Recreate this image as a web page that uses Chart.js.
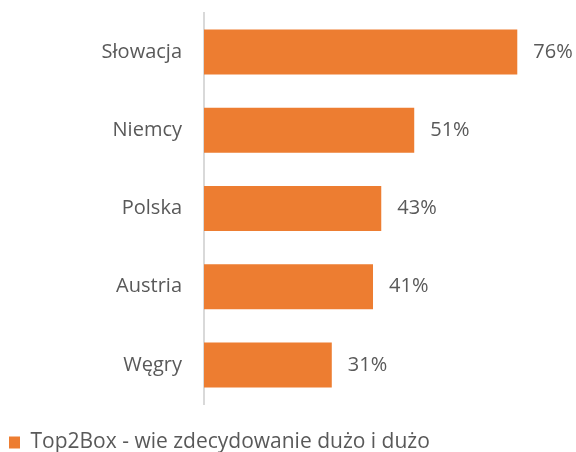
<!DOCTYPE html>
<html>
<head>
<meta charset="utf-8">
<script src="https://cdn.jsdelivr.net/npm/chart.js@4"></script>
<style>
    html, body { margin: 0; padding: 0; background: #fff; overflow: hidden; }
    #wrap { width: 576px; height: 463px; }
</style>
</head>
<body>
<div id="wrap"><canvas id="chart" width="576" height="463"></canvas></div>
<script>
// Dane
const countries = ['Słowacja', 'Niemcy', 'Polska', 'Austria', 'Węgry'];
const top2box = [76, 51, 43, 41, 31];
const seriesName = 'Top2Box - wie zdecydowanie dużo i dużo';

const textColor = '#595959';
const fontFamily = "'Open Sans', 'Noto Sans', sans-serif";

// etykiety wartości obok słupków
const valueLabels = {
    id: 'valueLabels',
    afterDatasetsDraw(chart) {
        const ctx = chart.ctx;
        const meta = chart.getDatasetMeta(0);
        ctx.save();
        ctx.font = '20px ' + fontFamily;
        ctx.fillStyle = textColor;
        ctx.textAlign = 'left';
        ctx.textBaseline = 'middle';
        meta.data.forEach((bar, i) => {
            ctx.fillText(top2box[i] + '%', bar.x + 16, bar.y);
        });
        ctx.restore();
    }
};

const ctx = document.getElementById('chart').getContext('2d');
const chart = new Chart(ctx, {
    type: 'bar',
    data: {
        labels: countries,
        datasets: [{
            label: seriesName,
            data: top2box,
            backgroundColor: '#ED7D31',
            borderWidth: 0,
            barPercentage: 0.575,
            categoryPercentage: 1
        }]
    },
    options: {
        indexAxis: 'y',
        responsive: false,
        animation: false,
        layout: {
            padding: { top: 13, right: 1, left: 0, bottom: 0 }
        },
        plugins: {
            legend: {
                position: 'bottom',
                align: 'start',
                // pusty tytuł daje odstęp między osią a legendą
                title: {
                    display: true,
                    text: '',
                    font: { size: 10 },
                    padding: { top: 7, bottom: 0 }
                },
                labels: {
                    boxWidth: 11,
                    boxHeight: 12,
                    color: textColor,
                    font: { size: 21, family: fontFamily },
                    padding: 9
                }
            },
            tooltip: { enabled: false }
        },
        scales: {
            x: {
                display: false,
                min: 0,
                max: 90
            },
            y: {
                grid: { display: false, drawTicks: false },
                border: { display: true, color: '#d9d9d9', width: 2 },
                ticks: {
                    color: textColor,
                    font: { size: 20, family: fontFamily },
                    padding: 22
                },
                afterFit(scale) {
                    scale.width = 204;
                    scale.paddingTop = 0;
                    scale.paddingBottom = 0;
                }
            }
        }
    },
    plugins: [valueLabels]
});
</script>
</body>
</html>
